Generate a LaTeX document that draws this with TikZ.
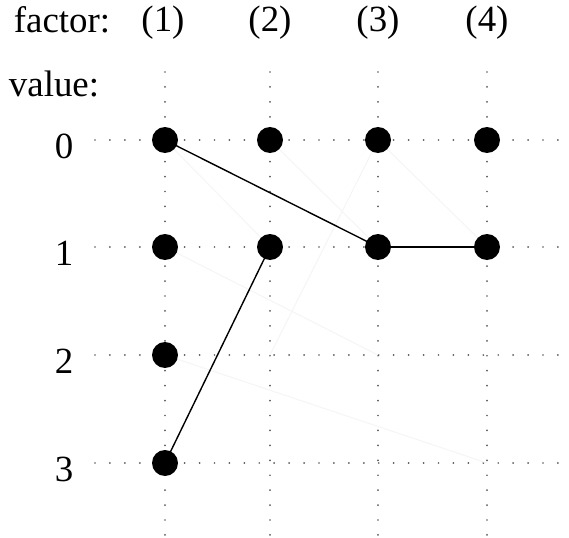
\documentclass[tikz,border=0pt]{standalone}
\usepackage{fontspec}
\setmainfont{Liberation Serif}
\begin{document}
\begin{tikzpicture}[x=0.02cm,y=-0.02cm,
  grid/.style={line width=1.1pt,line cap=round,dash pattern=on 0pt off 8.5pt,black!65},
  ball/.style={circle,fill=black,inner sep=0pt,minimum size=0.52cm},
  lab/.style={font=\fontsize{21}{24}\selectfont,inner sep=0pt,anchor=base},
  link/.style={line width=0.8pt},
  ghost/.style={line width=0.6pt,black!4}]
\useasboundingbox (0,0) rectangle (569,538);
% grid lines
\foreach \y in {140,247,355,463} \draw[grid] (95,\y) -- (562,\y);
\foreach \x in {165,270,378,487} \draw[grid] (\x,72) -- (\x,535);
% labels
\node[lab] (f) at (62,32) {factor:};
\node[lab] (v) at (54,96) {value:};
\node[lab] (c1) at (163,31) {(1)};
\node[lab] (c2) at (270,31) {(2)};
\node[lab] (c3) at (378,31) {(3)};
\node[lab] (c4) at (487,31) {(4)};
\node[lab] (r0) at (64,158) {0};
\node[lab] (r1) at (64,265) {1};
\node[lab] (r2) at (64,373) {2};
\node[lab] (r3) at (64,481) {3};
% coordinates
\coordinate (a0) at (165,140); \coordinate (a1) at (165,247); \coordinate (a2) at (165,355); \coordinate (a3) at (165,463);
\coordinate (b0) at (270,140); \coordinate (b1) at (270,247); \coordinate (b2) at (270,355);
\coordinate (d0) at (378,140); \coordinate (d1) at (378,247); \coordinate (d2) at (378,355);
\coordinate (e0) at (487,140); \coordinate (e1) at (487,247); \coordinate (e3) at (487,463);
% faint ghost lines
\draw[ghost] (b0) -- (d1);
\draw[ghost] (d0) -- (e1);
\draw[ghost] (d0) -- (b2);
\draw[ghost] (a0) -- (b1);
\draw[ghost] (a1) -- (d2);
\draw[ghost] (a2) -- (e3);
% links
\draw[link] (a0) -- (d1);
\draw[line width=1.4pt] (d1) -- (e1);
\draw[link] (b1) -- (a3);
% balls
\foreach \n in {a0,a1,a2,a3,b0,b1,d0,d1,e0,e1} \node[ball] (n\n) at (\n) {};
\end{tikzpicture}
\end{document}
